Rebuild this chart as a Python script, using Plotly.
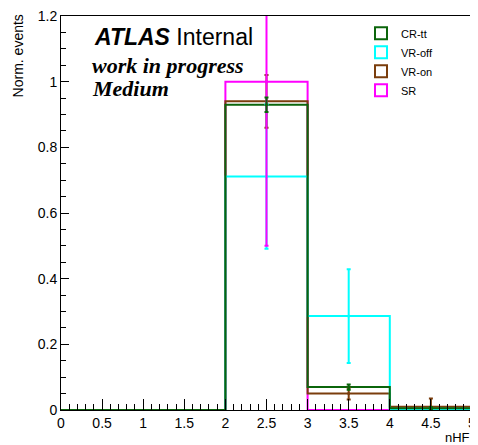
import plotly.graph_objects as go

# bin edges and normalised contents for nHF
bin_edges = [0, 1, 2, 3, 4, 5]
bin_centers = [0.5, 1.5, 2.5, 3.5, 4.5]

cr_tt = [0.0, 0.0, 0.93, 0.07, 0.005]
cr_tt_err = [0.0, 0.0, 0.022, 0.008, 0.004]
vr_off = [0.0, 0.0, 0.711, 0.286, 0.0]
vr_off_err = [0.0, 0.0, 0.22, 0.143, 0.0]
vr_on = [0.0, 0.0, 0.94, 0.05, 0.01]
vr_on_err = [0.0, 0.0, 0.08, 0.018, 0.025]
sr = [0.0, 0.0, 1.0, 0.0, 0.0]
sr_err = [0.0, 0.0, 0.5, 0.0, 0.0]

names = ["CR-tt", "VR-off", "VR-on", "SR"]
colors = {"CR-tt": "#0b650b", "VR-off": "#00ffff", "VR-on": "#7a3d0c", "SR": "#ff00ff"}
series = {
    "CR-tt": (cr_tt, cr_tt_err),
    "VR-off": (vr_off, vr_off_err),
    "VR-on": (vr_on, vr_on_err),
    "SR": (sr, sr_err),
}

font = "Liberation Sans, Arial, sans-serif"
serif = "Liberation Serif, Times New Roman, serif"

fig = go.Figure()

# histogram outlines (step lines)
for n in ["SR", "VR-on", "VR-off", "CR-tt"]:
    vals = series[n][0]
    fig.add_trace(go.Scatter(x=bin_edges, y=vals + [vals[-1]], mode="lines",
                             line=dict(color=colors[n], width=2, shape="hv"),
                             showlegend=False, hoverinfo="skip"))

# error bars, only for filled bins
for n in ["VR-off", "VR-on", "SR", "CR-tt"]:
    vals, errs = series[n]
    xs = [c for c, v in zip(bin_centers, vals) if v > 0]
    ys = [v for v in vals if v > 0]
    es = [e for v, e in zip(vals, errs) if v > 0]
    fig.add_trace(go.Scatter(x=xs, y=ys, mode="markers",
                             marker=dict(color=colors[n], size=3),
                             error_y=dict(type="data", array=es, color=colors[n],
                                          thickness=2, width=2),
                             showlegend=False))

# legend entries (open boxes like ROOT)
for n in names:
    fig.add_trace(go.Bar(x=[None], y=[None], name=n,
                         marker=dict(color="rgba(0,0,0,0)",
                                     line=dict(color=colors[n], width=2))))

fig.add_annotation(text="<b><i>ATLAS</i></b> Internal", xref="paper", yref="paper",
                   x=0.075, y=0.946, xanchor="left", yanchor="middle", showarrow=False,
                   font=dict(family=font, size=23, color="black"))
fig.add_annotation(text="<b><i>work in progress</i></b>", xref="paper", yref="paper",
                   x=0.07, y=0.875, xanchor="left", yanchor="middle", showarrow=False,
                   font=dict(family=serif, size=22, color="black"))
fig.add_annotation(text="<b><i>Medium</i></b>", xref="paper", yref="paper",
                   x=0.07, y=0.817, xanchor="left", yanchor="middle", showarrow=False,
                   font=dict(family=serif, size=22, color="black"))

fig.add_annotation(text="Norm. events", xref="paper", yref="paper",
                   x=-0.105, y=1.01, xanchor="center", yanchor="top", textangle=-90,
                   showarrow=False, font=dict(family=font, size=14, color="black"))
fig.add_annotation(text="nHF", xref="paper", yref="paper",
                   x=1.0, y=-0.071, xanchor="right", yanchor="middle",
                   showarrow=False, font=dict(family=font, size=13, color="black"))

# page body has an 8px margin, so the figure is shifted down/right by 8px
fig.update_layout(
    width=478, height=445,
    margin=dict(l=53, r=14, t=8, b=43),
    paper_bgcolor="white", plot_bgcolor="white",
    font=dict(family=font, size=14, color="black"),
    barmode="overlay",
    legend=dict(x=0.73, y=0.993, xanchor="left", yanchor="top",
                bgcolor="rgba(0,0,0,0)", borderwidth=0,
                font=dict(family=font, size=11, color="black"),
                itemwidth=30, tracegroupgap=0),
    xaxis=dict(range=[0, 5], dtick=0.5, tick0=0, showgrid=False, zeroline=False,
               showline=True, linecolor="black", linewidth=1, mirror=True,
               ticks="inside", ticklen=11, tickcolor="black", automargin=False,
               tickfont=dict(size=14), ticklabeloverflow="allow",
               minor=dict(dtick=0.1, ticks="inside", ticklen=6, tickcolor="black")),
    yaxis=dict(range=[0, 1.20001], dtick=0.2, tick0=0, showgrid=False, zeroline=False,
               showline=True, linecolor="black", linewidth=1, mirror=True,
               ticks="inside", ticklen=8, tickcolor="black", automargin=False,
               tickfont=dict(size=14), ticklabeloverflow="allow",
               minor=dict(dtick=0.05, ticks="inside", ticklen=5, tickcolor="black")),
)

fig.write_html("out.html")
